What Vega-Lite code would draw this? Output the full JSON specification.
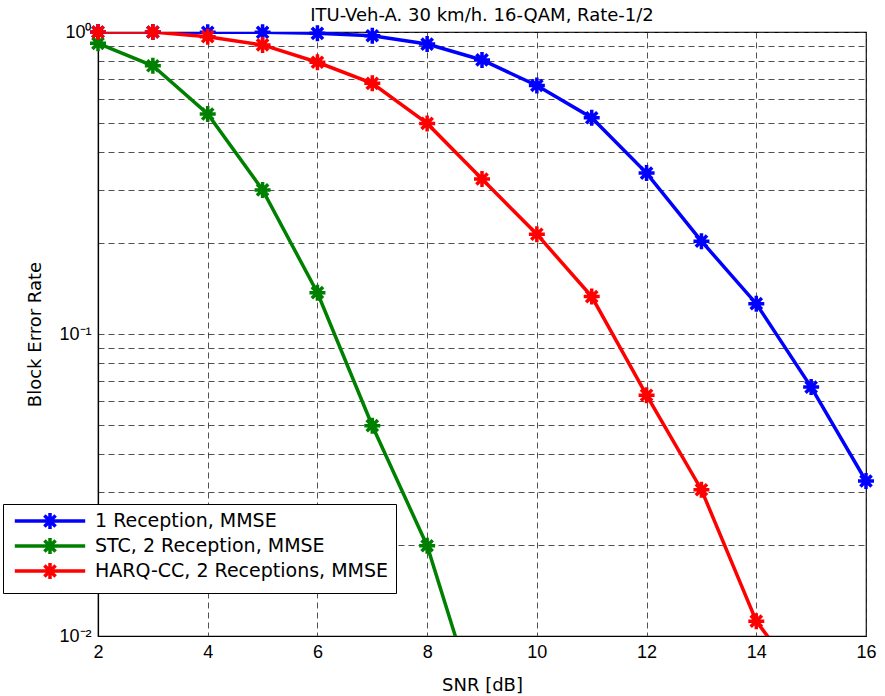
{
  "$schema": "https://vega.github.io/schema/vega-lite/v6.json",
  "width": 768,
  "height": 604,
  "autosize": {"type": "none"},
  "padding": {"left": 98, "top": 32, "right": 19, "bottom": 60},
  "background": "white",
  "title": {
    "text": "ITU-Veh-A. 30 km/h. 16-QAM, Rate-1/2",
    "fontSize": 18,
    "fontWeight": "normal",
    "font": "DejaVu Sans",
    "color": "black",
    "frame": "group",
    "offset": -8
  },
  "config": {
    "view": {"stroke": "black", "strokeWidth": 1.2},
    "axis": {
      "grid": true,
      "gridColor": "#333333",
      "gridDash": [6, 4],
      "gridWidth": 1,
      "gridOpacity": 0.85,
      "ticks": false,
      "domainColor": "black",
      "domainWidth": 1.2,
      "labelColor": "black",
      "labelFontSize": 18,
      "labelFont": "Liberation Sans",
      "titleColor": "black",
      "titleFontSize": 18,
      "titleFontWeight": "normal",
      "titleFont": "DejaVu Sans"
    }
  },
  "data": {
    "values": [
      {"series": "1 Reception, MMSE", "snr": 2, "bler": 1.0},
      {"series": "1 Reception, MMSE", "snr": 3, "bler": 1.0},
      {"series": "1 Reception, MMSE", "snr": 4, "bler": 0.998},
      {"series": "1 Reception, MMSE", "snr": 5, "bler": 0.998},
      {"series": "1 Reception, MMSE", "snr": 6, "bler": 0.99},
      {"series": "1 Reception, MMSE", "snr": 7, "bler": 0.972},
      {"series": "1 Reception, MMSE", "snr": 8, "bler": 0.912},
      {"series": "1 Reception, MMSE", "snr": 9, "bler": 0.808},
      {"series": "1 Reception, MMSE", "snr": 10, "bler": 0.665},
      {"series": "1 Reception, MMSE", "snr": 11, "bler": 0.52},
      {"series": "1 Reception, MMSE", "snr": 12, "bler": 0.341},
      {"series": "1 Reception, MMSE", "snr": 13, "bler": 0.203},
      {"series": "1 Reception, MMSE", "snr": 14, "bler": 0.126},
      {"series": "1 Reception, MMSE", "snr": 15, "bler": 0.0667},
      {"series": "1 Reception, MMSE", "snr": 16, "bler": 0.0326},
      {"series": "STC, 2 Reception, MMSE", "snr": 2, "bler": 0.917},
      {"series": "STC, 2 Reception, MMSE", "snr": 3, "bler": 0.773},
      {"series": "STC, 2 Reception, MMSE", "snr": 4, "bler": 0.535},
      {"series": "STC, 2 Reception, MMSE", "snr": 5, "bler": 0.3},
      {"series": "STC, 2 Reception, MMSE", "snr": 6, "bler": 0.137},
      {"series": "STC, 2 Reception, MMSE", "snr": 7, "bler": 0.0497},
      {"series": "STC, 2 Reception, MMSE", "snr": 8, "bler": 0.0199},
      {"series": "STC, 2 Reception, MMSE", "snr": 9, "bler": 0.0052},
      {"series": "HARQ-CC, 2 Receptions, MMSE", "snr": 2, "bler": 1.0},
      {"series": "HARQ-CC, 2 Receptions, MMSE", "snr": 3, "bler": 1.0},
      {"series": "HARQ-CC, 2 Receptions, MMSE", "snr": 4, "bler": 0.965},
      {"series": "HARQ-CC, 2 Receptions, MMSE", "snr": 5, "bler": 0.906},
      {"series": "HARQ-CC, 2 Receptions, MMSE", "snr": 6, "bler": 0.794},
      {"series": "HARQ-CC, 2 Receptions, MMSE", "snr": 7, "bler": 0.676},
      {"series": "HARQ-CC, 2 Receptions, MMSE", "snr": 8, "bler": 0.498},
      {"series": "HARQ-CC, 2 Receptions, MMSE", "snr": 9, "bler": 0.326},
      {"series": "HARQ-CC, 2 Receptions, MMSE", "snr": 10, "bler": 0.214},
      {"series": "HARQ-CC, 2 Receptions, MMSE", "snr": 11, "bler": 0.133},
      {"series": "HARQ-CC, 2 Receptions, MMSE", "snr": 12, "bler": 0.0627},
      {"series": "HARQ-CC, 2 Receptions, MMSE", "snr": 13, "bler": 0.0305},
      {"series": "HARQ-CC, 2 Receptions, MMSE", "snr": 14, "bler": 0.0112},
      {"series": "HARQ-CC, 2 Receptions, MMSE", "snr": 15, "bler": 0.0064}
    ]
  },
  "encoding": {
    "x": {
      "field": "snr",
      "type": "quantitative",
      "scale": {"domain": [2, 16], "nice": false, "zero": false},
      "axis": {
        "values": [2, 4, 6, 8, 10, 12, 14, 16],
        "title": "SNR [dB]",
        "labelPadding": 7,
        "titlePadding": 15,
        "labelFlush": false
      }
    },
    "y": {
      "field": "bler",
      "type": "quantitative",
      "scale": {"type": "log", "domain": [0.01, 1], "nice": false},
      "axis": {
        "values": [0.01, 0.02, 0.03, 0.04, 0.05, 0.06, 0.07, 0.08, 0.09, 0.1, 0.2, 0.3, 0.4, 0.5, 0.6, 0.7, 0.8, 0.9, 1],
        "labelExpr": "datum.value == 1 ? '10⁰' : datum.value == 0.1 ? '10⁻¹' : datum.value == 0.01 ? '10⁻²' : ''",
        "title": "Block Error Rate",
        "labelPadding": 7,
        "titlePadding": 14,
        "labelFlush": false
      }
    },
    "color": {
      "field": "series",
      "type": "nominal",
      "scale": {
        "domain": ["1 Reception, MMSE", "STC, 2 Reception, MMSE", "HARQ-CC, 2 Receptions, MMSE"],
        "range": ["#0000ff", "#008000", "#ff0000"]
      },
      "legend": {
        "title": null,
        "orient": "none",
        "legendX": -95,
        "legendY": 472,
        "strokeColor": "black",
        "fillColor": "white",
        "padding": 7,
        "labelFontSize": 19,
        "labelFont": "DejaVu Sans",
        "labelColor": "black",
        "labelLimit": 500,
        "labelExpr": "datum.label == '1 Reception, MMSE' ? '\u00a0' + datum.label : datum.label",
        "symbolType": "M-4.4,0L4.4,0M0,-1L0,1M-0.7,-0.7L0.7,0.7M-0.7,0.7L0.7,-0.7",
        "symbolSize": 256,
        "symbolStrokeWidth": 3.5,
        "symbolFillColor": "transparent",
        "symbolOffset": 30,
        "labelOffset": 35,
        "rowPadding": -6
      }
    }
  },
  "layer": [
    {
      "mark": {"type": "line", "clip": true, "strokeWidth": 3.5}
    },
    {
      "transform": [{"filter": "datum.bler >= 0.01"}],
      "mark": {
        "type": "point",
        "shape": "M0,-1L0,1M-1,0L1,0M-0.7,-0.7L0.7,0.7M-0.7,0.7L0.7,-0.7",
        "filled": false,
        "strokeWidth": 3.5,
        "size": 256,
        "opacity": 1
      }
    }
  ]
}
